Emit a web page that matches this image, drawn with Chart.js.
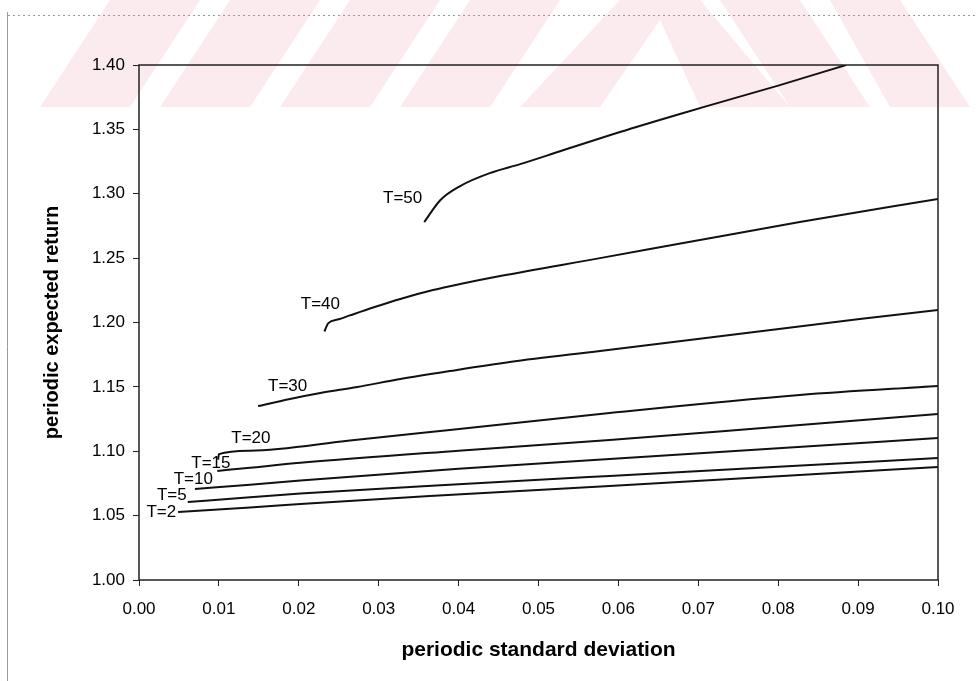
<!DOCTYPE html>
<html lang="en">
<head>
  <meta charset="UTF-8" />
  <title>Periodic expected return vs periodic standard deviation</title>
  <script src="https://cdn.jsdelivr.net/npm/chart.js"></script>
  <style>
    body {
      margin: 0;
      padding: 0;
      background: #fff;
    }
    canvas {
      display: block;
    }
  </style>
</head>
<body>
  <canvas id="grafico" width="978" height="681"></canvas>

  <script>
    // curves: standard deviation (x) and expected return (y)
    const sdT2  = [0.0049, 0.0139, 0.0202, 0.0364, 0.0589, 0.0800, 0.1000];
    const retT2 = [1.0528, 1.0563, 1.0590, 1.0652, 1.0730, 1.0805, 1.0878];

    const sdT5  = [0.0061, 0.0139, 0.0202, 0.0400, 0.0589, 0.0800, 0.1000];
    const retT5 = [1.0606, 1.0643, 1.0671, 1.0743, 1.0808, 1.0879, 1.0948];

    const sdT10  = [0.0070, 0.0139, 0.0202, 0.0400, 0.0589, 0.0800, 0.1000];
    const retT10 = [1.0707, 1.0740, 1.0772, 1.0864, 1.0940, 1.1024, 1.1103];

    const sdT15  = [0.0098, 0.0139, 0.0202, 0.0400, 0.0589, 0.0800, 0.1000];
    const retT15 = [1.0847, 1.0872, 1.0910, 1.1004, 1.1087, 1.1191, 1.1289];

    const sdT20  = [0.0099, 0.0100, 0.0139, 0.0264, 0.0389, 0.0589, 0.0827, 0.1000];
    const retT20 = [1.0935, 1.0978, 1.1004, 1.1083, 1.1165, 1.1297, 1.1437, 1.1507];

    const sdT30  = [0.0149, 0.0189, 0.0227, 0.0273, 0.0327, 0.0389, 0.0464, 0.0577, 0.0750, 0.0902, 0.1000];
    const retT30 = [1.1351, 1.1406, 1.1452, 1.1499, 1.1561, 1.1623, 1.1693, 1.1779, 1.1911, 1.2027, 1.2097];

    const sdT40  = [0.0232, 0.0237, 0.0250, 0.0264, 0.0295, 0.0327, 0.0368, 0.0402, 0.0452, 0.0577, 0.0702, 0.0827, 0.1000];
    const retT40 = [1.1930, 1.1995, 1.2025, 1.2055, 1.2120, 1.2183, 1.2252, 1.2299, 1.2361, 1.2500, 1.2641, 1.2780, 1.2960];

    const sdT50  = [0.0357, 0.0377, 0.0402, 0.0439, 0.0477, 0.0527, 0.0602, 0.0677, 0.0727, 0.0800, 0.0885];
    const retT50 = [1.2780, 1.2950, 1.3060, 1.3160, 1.3230, 1.3330, 1.3480, 1.3620, 1.3710, 1.3840, 1.4000];

    const seriesNames = ['T=2', 'T=5', 'T=10', 'T=15', 'T=20', 'T=30', 'T=40', 'T=50'];
    const seriesSd  = [sdT2, sdT5, sdT10, sdT15, sdT20, sdT30, sdT40, sdT50];
    const seriesRet = [retT2, retT5, retT10, retT15, retT20, retT30, retT40, retT50];

    // where the curve names sit (data units)
    const labelSd  = [0.0028, 0.0041, 0.0068, 0.0090, 0.0140, 0.0186, 0.0227, 0.0330];
    const labelRet = [1.0528, 1.0660, 1.0784, 1.0909, 1.1103, 1.1507, 1.2144, 1.2967];

    const xTicks = [0.00, 0.01, 0.02, 0.03, 0.04, 0.05, 0.06, 0.07, 0.08, 0.09, 0.10];
    const yTicks = [1.00, 1.05, 1.10, 1.15, 1.20, 1.25, 1.30, 1.35, 1.40];

    const fonte = "'Liberation Sans', Arial, sans-serif";

    const datasets = seriesNames.map((nome, i) => ({
      label: nome,
      data: seriesSd[i].map((x, j) => ({ x: x, y: seriesRet[i][j] })),
      borderColor: '#111',
      borderWidth: 2,
      pointRadius: 0,
      cubicInterpolationMode: 'monotone',
      fill: false
    }));

    // scan background: pale watermark, outer frame, plot box and curve names
    const enfeite = {
      id: 'enfeite',
      beforeDraw(chart) {
        const ctx = chart.ctx;
        ctx.save();
        ctx.fillStyle = '#fff';
        ctx.fillRect(0, 0, chart.width, chart.height);

        ctx.fillStyle = 'rgba(236, 110, 135, 0.14)';
        const formas = [
          [[40, 107], [130, 107], [200, 0], [110, 0]],
          [[160, 107], [250, 107], [320, 0], [230, 0]],
          [[280, 107], [370, 107], [440, 0], [350, 0]],
          [[400, 107], [490, 107], [560, 0], [470, 0]],
          [[520, 107], [600, 107], [660, 20], [700, 107], [790, 107], [700, 0], [620, 0]],
          [[720, 0], [800, 0], [870, 107], [790, 107]],
          [[830, 0], [900, 0], [970, 107], [890, 107]]
        ];
        formas.forEach(f => {
          ctx.beginPath();
          f.forEach((p, k) => k ? ctx.lineTo(p[0], p[1]) : ctx.moveTo(p[0], p[1]));
          ctx.closePath();
          ctx.fill();
        });

        ctx.strokeStyle = '#9a9a9a';
        ctx.lineWidth = 1;
        ctx.beginPath();
        ctx.moveTo(7.5, 12);
        ctx.lineTo(7.5, chart.height);
        ctx.stroke();
        ctx.setLineDash([2, 3]);
        ctx.beginPath();
        ctx.moveTo(8, 15.5);
        ctx.lineTo(chart.width, 15.5);
        ctx.stroke();
        ctx.restore();
      },
      afterDatasetsDraw(chart) {
        const ctx = chart.ctx;
        const a = chart.chartArea;
        const sx = chart.scales.x, sy = chart.scales.y;
        ctx.save();
        ctx.strokeStyle = '#222';
        ctx.lineWidth = 1.5;
        ctx.strokeRect(a.left, a.top, a.right - a.left, a.bottom - a.top);

        ctx.fillStyle = '#000';
        ctx.font = '17px ' + fonte;
        ctx.textAlign = 'center';
        ctx.textBaseline = 'middle';
        seriesNames.forEach((nome, i) => {
          ctx.fillText(nome, sx.getPixelForValue(labelSd[i]), sy.getPixelForValue(labelRet[i]));
        });
        ctx.restore();
      }
    };

    new Chart(document.getElementById('grafico').getContext('2d'), {
      type: 'line',
      data: { datasets: datasets },
      plugins: [enfeite],
      options: {
        responsive: false,
        animation: false,
        layout: { padding: { left: 0, top: 65, right: 40, bottom: 0 } },
        plugins: {
          legend: { display: false },
          tooltip: { enabled: false }
        },
        scales: {
          x: {
            type: 'linear',
            min: 0,
            max: 0.1,
            afterFit(s) { s.height = 101; },
            afterBuildTicks(s) { s.ticks = xTicks.map(v => ({ value: v })); },
            grid: { drawOnChartArea: false, tickLength: 6, color: '#222' },
            border: { display: false },
            ticks: {
              color: '#000',
              padding: 13,
              maxRotation: 0,
              font: { family: fonte, size: 17 },
              callback: v => Number(v).toFixed(2)
            },
            title: {
              display: true,
              text: 'periodic standard deviation',
              color: '#000',
              font: { family: fonte, size: 21, weight: 'bold' },
              padding: { top: 0, bottom: 18 }
            }
          },
          y: {
            type: 'linear',
            min: 1.0,
            max: 1.4,
            afterFit(s) { s.width = 139; },
            afterBuildTicks(s) { s.ticks = yTicks.map(v => ({ value: v })); },
            grid: { drawOnChartArea: false, tickLength: 6, color: '#222' },
            border: { display: false },
            ticks: {
              color: '#000',
              padding: 8,
              font: { family: fonte, size: 17 },
              callback: v => Number(v).toFixed(2)
            },
            title: {
              display: true,
              text: 'periodic expected return',
              color: '#000',
              font: { family: fonte, size: 20, weight: 'bold' },
              padding: { top: 40, bottom: 0 }
            }
          }
        }
      }
    });
  </script>
</body>
</html>
